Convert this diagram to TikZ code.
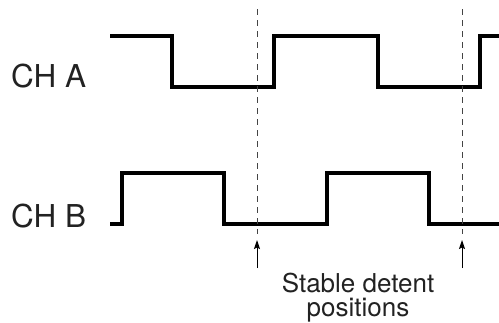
\documentclass[tikz,border=0pt]{standalone}
\usepackage{fontspec}
\setmainfont{TeX Gyre Heros}
\usetikzlibrary{arrows.meta}
\definecolor{txtcol}{HTML}{222222}
\definecolor{guidecol}{HTML}{444444}
\tikzset{
  wave/.style={line width=3.2bp, black, miter limit=10, line join=miter},
  guide/.style={line width=0.9bp, draw=guidecol, dash pattern=on 6bp off 5bp},
  pointer/.style={line width=1bp, black, -{Stealth[length=9bp,width=6bp,inset=1.5bp]}},
  chlabel/.style={inner sep=0pt, anchor=base west, text=txtcol, font=\fontsize{31.5bp}{37bp}\selectfont},
  note/.style={inner sep=0pt, anchor=north, align=center, text=txtcol, font=\fontsize{26bp}{24bp}\selectfont}
}
\begin{document}
\begin{tikzpicture}[x=1bp,y=-1bp]
\useasboundingbox (0,0) rectangle (499,322);
% labels
\node[chlabel] (cha) at (11,87) {CH A};
\node[chlabel] (chb) at (11,227) {CH B};
% waveform A
\draw[wave] (110,36) -- (172,36) -- (172,87) -- (274,87) -- (274,36) -- (378,36) -- (378,87) -- (480,87) -- (480,36) -- (500,36);
% waveform B
\draw[wave] (110,224) -- (122,224) -- (122,173) -- (224,173) -- (224,224) -- (327,224) -- (327,173) -- (429,173) -- (429,224) -- (500,224);
% detent guides
\coordinate (g1top) at (257,9);
\coordinate (g1bot) at (257,234);
\coordinate (g2top) at (462,9);
\coordinate (g2bot) at (462,234);
\draw[guide] (g1top) -- (g1bot);
\draw[guide] (g2top) -- (g2bot);
% arrows
\coordinate (a1base) at (257,268);
\coordinate (a1tip) at (257,240);
\coordinate (a2base) at (462,268);
\coordinate (a2tip) at (462,240);
\draw[pointer] (a1base) -- (a1tip);
\draw[pointer] (a2base) -- (a2tip);
% caption
\node[note] (cap) at (358,273) {Stable detent\\positions};
\end{tikzpicture}
\end{document}
